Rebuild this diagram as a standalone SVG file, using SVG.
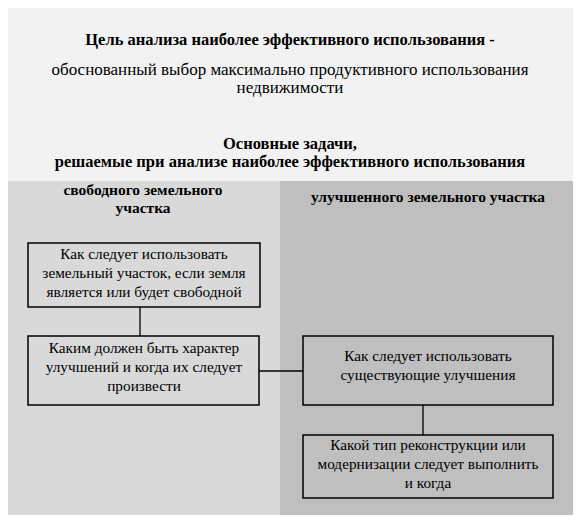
<svg xmlns="http://www.w3.org/2000/svg" width="581" height="525" viewBox="0 0 581 525" font-family="'Liberation Serif', 'Times New Roman', 'DejaVu Serif', serif">
<style>
text{font-family:"Liberation Serif","Times New Roman","DejaVu Serif",serif;fill:#000;text-anchor:middle}
.h{font-weight:bold;font-size:16.5px}
.r{font-size:17px}
.s{font-weight:bold;font-size:15.5px}
.b{font-size:15.3px}
.box{stroke:#000;stroke-width:1.5}
.ln{stroke:#000;stroke-width:1.3;fill:none}
</style>
<rect width="581" height="525" fill="#ffffff"/>
<rect x="8" y="8" width="565" height="173" fill="#f2f2f2"/>
<rect x="8" y="181" width="272" height="334" fill="#d9d9d9"/>
<rect x="280" y="181" width="293" height="334" fill="#bfbfbf"/>
<g id="title">
<text class="h" x="290" y="45">Цель анализа наиболее эффективного использования -</text>
<text class="r" x="290" y="75">обоснованный выбор максимально продуктивного использования</text>
<text class="r" x="290" y="93">недвижимости</text>
<text class="h" x="290" y="149">Основные задачи,</text>
<text class="h" x="290" y="167">решаемые при анализе наиболее эффективного использования</text>
</g>
<g id="header-left"><text class="s" x="143" y="195">свободного земельного</text><text class="s" x="143" y="213">участка</text></g>
<g id="header-right"><text class="s" x="428" y="202">улучшенного земельного участка</text></g>
<g id="connectors">
<line class="ln" x1="140" y1="307" x2="140" y2="336"/>
<line class="ln" x1="259" y1="371" x2="303" y2="371"/>
<line class="ln" x1="423" y1="405" x2="423" y2="435"/>
</g>
<g id="box1"><rect class="box" x="28" y="243" width="232" height="64" fill="#d9d9d9"/>
<text class="b" x="144" y="259">Как следует использовать</text><text class="b" x="144" y="278">земельный участок, если земля</text><text class="b" x="144" y="297">является или будет свободной</text></g>
<g id="box2"><rect class="box" x="28" y="336" width="231" height="69" fill="#d9d9d9"/>
<text class="b" x="144" y="353">Каким должен быть характер</text><text class="b" x="144" y="372">улучшений и когда их следует</text><text class="b" x="144" y="391">произвести</text></g>
<g id="box3"><rect class="box" x="303" y="336" width="250" height="69" fill="#bfbfbf"/>
<text class="b" x="428" y="361">Как следует использовать</text><text class="b" x="428" y="380">существующие улучшения</text></g>
<g id="box4"><rect class="box" x="303" y="435" width="250" height="63" fill="#bfbfbf"/>
<text class="b" x="428" y="450">Какой тип реконструкции или</text><text class="b" x="428" y="469">модернизации следует выполнить</text><text class="b" x="428" y="488">и когда</text></g>
</svg>
